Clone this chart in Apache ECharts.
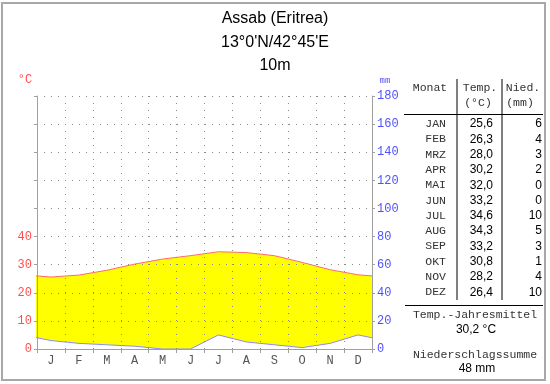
<!DOCTYPE html>
<html>
<head>
<meta charset="utf-8">
<script src="https://cdn.jsdelivr.net/npm/echarts@6/dist/echarts.min.js"></script>
<style>html,body{margin:0;padding:0;background:#fff}#c{width:550px;height:384px}</style>
</head>
<body>
<div id="c"></div>
<script>
var titleLines = ['Assab (Eritrea)', '13°0\'N/42°45\'E', '10m'];
var monthLetters = ['J','F','M','A','M','J','J','A','S','O','N','D'];
var monthNames = ['JAN','FEB','MRZ','APR','MAI','JUN','JUL','AUG','SEP','OKT','NOV','DEZ'];
var temps = [25.6, 26.3, 28.0, 30.2, 32.0, 33.2, 34.6, 34.3, 33.2, 30.8, 28.2, 26.4];
var precip = [6, 4, 3, 2, 0, 0, 10, 5, 3, 1, 4, 10];
var tempTickLabels = [0, 10, 20, 30, 40];
var precipTickLabels = [0, 20, 40, 60, 80, 100, 120, 140, 160, 180];

var MONO = '"Liberation Mono", "DejaVu Sans Mono", monospace';
var SANS = '"Liberation Sans", Arial, sans-serif';

function wrapSeries(arr) {
  // month centres at i+0.5; Dec repeated before Jan and Jan after Dec (clipped at the plot edges)
  var out = [[-0.5, arr[11]]];
  for (var i = 0; i < 12; i++) out.push([i + 0.5, arr[i]]);
  out.push([12.5, arr[0]]);
  return out;
}
function fmt1(v) { return v.toFixed(1).replace('.', ','); }

var meanT = temps.reduce(function(a, b){return a + b;}, 0) / 12;
var sumP = precip.reduce(function(a, b){return a + b;}, 0);

var graphics = [];
graphics.push({type: 'rect', shape: {x: 2, y: 3, width: 543, height: 377}, style: {fill: 'none', stroke: '#a8a8a8', lineWidth: 2}, silent: true});
titleLines.forEach(function(t, i) {
  graphics.push({type: 'text', style: {text: t, x: 275, y: 19 + i * 23.5, textAlign: 'center', textVerticalAlign: 'middle', font: '16px ' + SANS, fill: '#000'}});
});
graphics.push({type: 'text', style: {text: '°C', x: 25, y: 80, textAlign: 'center', textVerticalAlign: 'middle', font: '12px ' + MONO, fill: '#ff5050'}});
graphics.push({type: 'text', style: {text: 'mm', x: 385, y: 81, textAlign: 'center', textVerticalAlign: 'middle', font: '9px ' + MONO, fill: '#5050ff'}});
var hf = '11.5px ' + MONO;
graphics.push({type: 'text', style: {text: 'Monat', x: 430, y: 88, textAlign: 'center', textVerticalAlign: 'middle', font: hf, fill: '#333'}});
graphics.push({type: 'text', style: {text: 'Temp.', x: 480, y: 88, textAlign: 'center', textVerticalAlign: 'middle', font: hf, fill: '#333'}});
graphics.push({type: 'text', style: {text: '(°C)', x: 478, y: 103, textAlign: 'center', textVerticalAlign: 'middle', font: hf, fill: '#333'}});
graphics.push({type: 'text', style: {text: 'Nied.', x: 523, y: 88, textAlign: 'center', textVerticalAlign: 'middle', font: hf, fill: '#333'}});
graphics.push({type: 'text', style: {text: '(mm)', x: 520, y: 103, textAlign: 'center', textVerticalAlign: 'middle', font: hf, fill: '#333'}});
graphics.push({type: 'line', shape: {x1: 457, y1: 79, x2: 457, y2: 300}, style: {stroke: '#000', lineWidth: 1}});
graphics.push({type: 'line', shape: {x1: 502, y1: 79, x2: 502, y2: 300}, style: {stroke: '#000', lineWidth: 1}});
graphics.push({type: 'line', shape: {x1: 404, y1: 114.5, x2: 543, y2: 114.5}, style: {stroke: '#000', lineWidth: 1}});
graphics.push({type: 'line', shape: {x1: 405, y1: 305.5, x2: 543, y2: 305.5}, style: {stroke: '#000', lineWidth: 1}});
for (var i = 0; i < 12; i++) {
  var y = 124 + i * 15.3;
  graphics.push({type: 'text', style: {text: monthNames[i], x: 446, y: y, textAlign: 'right', textVerticalAlign: 'middle', font: hf, fill: '#333'}});
  graphics.push({type: 'text', style: {text: fmt1(temps[i]), x: 493, y: y, textAlign: 'right', textVerticalAlign: 'middle', font: '12px ' + SANS, fill: '#000'}});
  graphics.push({type: 'text', style: {text: String(precip[i]), x: 542, y: y, textAlign: 'right', textVerticalAlign: 'middle', font: '12px ' + SANS, fill: '#000'}});
}
graphics.push({type: 'text', style: {text: 'Temp.-Jahresmittel', x: 475, y: 315, textAlign: 'center', textVerticalAlign: 'middle', font: hf, fill: '#333'}});
graphics.push({type: 'text', style: {text: fmt1(meanT) + ' °C', x: 476, y: 330, textAlign: 'center', textVerticalAlign: 'middle', font: '12px ' + SANS, fill: '#000'}});
graphics.push({type: 'text', style: {text: 'Niederschlagssumme', x: 475, y: 355, textAlign: 'center', textVerticalAlign: 'middle', font: hf, fill: '#333'}});
graphics.push({type: 'text', style: {text: sumP + ' mm', x: 477, y: 369, textAlign: 'center', textVerticalAlign: 'middle', font: '12px ' + SANS, fill: '#000'}});

var dotted = {color: '#888', width: 1, type: [1, 6]};

var option = {
  animation: false,
  backgroundColor: '#fff',
  grid: {left: 37, right: 178, top: 96, bottom: 35, containLabel: false},
  xAxis: [
    {
      type: 'category', z: 5,
      data: monthLetters.map(function(_, i){ return String(i); }),
      boundaryGap: true,
      axisLine: {show: true, lineStyle: {color: '#a0a0a0', width: 1}},
      axisTick: {show: true, interval: 0, length: 4, lineStyle: {color: '#a0a0a0'}},
      axisLabel: {interval: 0, margin: 6, color: '#555', fontFamily: MONO, fontSize: 12,
        formatter: function(v){ return monthLetters[+v]; }},
      splitLine: {show: true, interval: 0, lineStyle: dotted}
    },
    {type: 'value', min: 0, max: 12, show: false}
  ],
  yAxis: [
    {
      type: 'value', z: 5, min: 0, max: 90, interval: 10, position: 'left',
      axisLine: {show: true, lineStyle: {color: '#a0a0a0', width: 1}},
      axisTick: {show: true, length: 3, lineStyle: {color: '#a0a0a0'}},
      axisLabel: {margin: 5, color: '#ff4d4d', fontFamily: MONO, fontSize: 12,
        formatter: function(v){ return tempTickLabels.indexOf(v) >= 0 ? String(v) : ''; }},
      splitLine: {show: true, lineStyle: dotted}
    },
    {
      type: 'value', z: 5, min: 0, max: 180, interval: 20, position: 'right',
      axisLine: {show: true, lineStyle: {color: '#a0a0a0', width: 1}},
      axisTick: {show: true, length: 3, lineStyle: {color: '#a0a0a0'}},
      axisLabel: {margin: 5, color: '#5050ff', fontFamily: MONO, fontSize: 12,
        formatter: function(v){ return precipTickLabels.indexOf(v) >= 0 ? String(v) : ''; }},
      splitLine: {show: false}
    }
  ],
  series: [
    {
      type: 'line', name: 'Temp', xAxisIndex: 1, yAxisIndex: 0, z: 1,
      data: wrapSeries(temps), symbol: 'none', clip: true,
      lineStyle: {color: '#ff6a6a', width: 1},
      areaStyle: {color: '#ffff00', opacity: 1, origin: 'start'}
    },
    {
      type: 'line', name: 'Nied', xAxisIndex: 1, yAxisIndex: 1, z: 2,
      data: wrapSeries(precip), symbol: 'none', clip: true,
      lineStyle: {color: '#8a8aff', width: 1},
      areaStyle: {color: '#ffffff', opacity: 1, origin: 'start'}
    }
  ],
  graphic: graphics
};
var chart = echarts.init(document.getElementById('c'), null, {renderer: 'canvas'});
chart.setOption(option);
</script>
</body>
</html>
